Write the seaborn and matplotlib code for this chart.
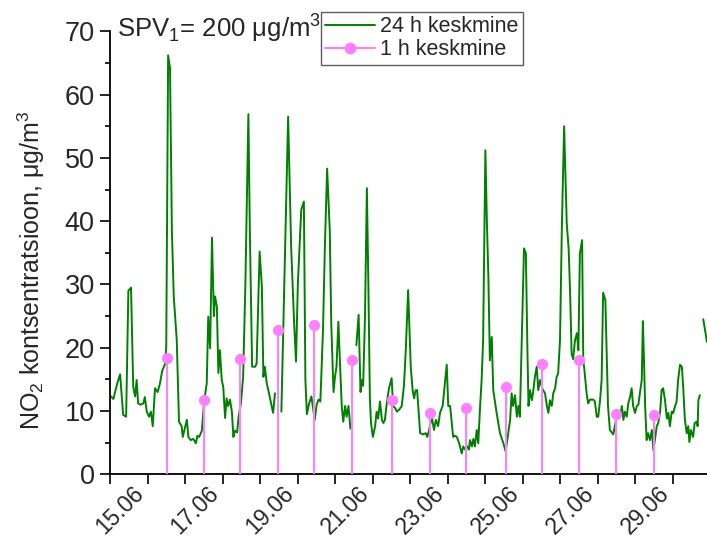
import matplotlib
matplotlib.use('Agg')
import matplotlib.pyplot as plt
import matplotlib.transforms as mtransforms
from matplotlib.lines import Line2D
from matplotlib.ticker import FuncFormatter, MultipleLocator
import numpy as np
import pandas as pd
import seaborn as sns

GREEN = '#008000'
PINK = '#FF80FF'

# 24 h keskmine: day of June (decimal) and NO2, None marks a gap in the record
DAY_24H = [14.03, 14.09, 14.19, 14.27, 14.35, 14.43, 14.49, 14.56, 14.62, 14.67,
           14.71, 14.75, 14.81, 14.89, 14.93, 14.98, 15.04, 15.09, 15.14, 15.20,
           15.27, 15.33, 15.39, 15.47, 15.50, 15.55, 15.60, 15.65, 15.70, 15.78,
           15.84, 15.91, 15.94, 16.00, 16.05, 16.09, 16.15, 16.22, 16.29, 16.33,
           16.38, 16.45, 16.51, 16.58, 16.62, 16.67, 16.72, 16.77, 16.80, 16.85,
           16.89, 16.93, 16.98, 17.02, 17.07, 17.11, 17.15, 17.20, 17.25, 17.29,
           17.33, 17.39, 17.43, 17.49, 17.55, 17.61, 17.69, 17.73, 17.79, 17.87,
           17.91, 17.99, 18.05, 18.09, 18.13, 18.18, 18.25, 18.31, 18.35, 18.40,
           None,
           18.57, 18.64, 18.75, 18.83, 18.91, 18.96, 19.01, 19.10, 19.17, 19.21,
           19.25, 19.31, 19.37, 19.46, 19.51, 19.56, 19.61, 19.68, 19.73, 19.79,
           19.86, 19.90, 19.96, 20.00, 20.04, 20.09, 20.13, 20.18, 20.22, 20.27,
           20.31, 20.36, 20.41,
           None,
           20.57, 20.63, 20.68, 20.72, 20.75, 20.80, 20.85, 20.89, 20.93, 20.96,
           21.01, 21.07, 21.11, 21.15, 21.20, 21.25, 21.29, 21.33, 21.38, 21.44,
           21.51, 21.55, 21.60, 21.65, 21.71, 21.78, 21.84, 21.89, 21.95, 22.02,
           22.07, 22.11, 22.15, 22.19, 22.24, 22.27, 22.35, 22.42, 22.46, 22.51,
           22.58, 22.64, 22.69, 22.75, 22.80, 22.87, 22.93, 22.98, 23.02, 23.07,
           23.11, 23.15, 23.20, 23.25, 23.31, 23.38, 23.42, 23.47, 23.53, 23.57,
           23.60, 23.65, 23.69, 23.73, 23.78, 23.82, 23.87, 23.91, 23.95, 24.01,
           24.05, 24.09, 24.13, 24.18, 24.22, 24.31, 24.40, 24.49, 24.55, 24.62,
           24.67, 24.71, 24.75, 24.80, 24.85, 24.89, 24.93, 24.98, 25.04, 25.09,
           25.13, 25.16, 25.20, 25.25, 25.29, 25.33, 25.38, 25.42, 25.47, 25.53,
           25.60, 25.65, 25.69, 25.73, 25.78, 25.82, 25.87, 25.91, 25.95, 26.00,
           26.05, 26.11, 26.18, 26.23, 26.27, 26.31, 26.35, 26.40, 26.45, 26.49,
           26.53, 26.59, 26.62, 26.65, 26.71, 26.75, 26.80, 26.89, 26.93, 26.98,
           27.02, 27.07, 27.11, 27.15, 27.21, 27.25, 27.28, 27.33, 27.42, 27.51,
           27.55, 27.60, 27.65, 27.69, 27.73, 27.78, 27.82, 27.87, 27.91, 27.95,
           28.00, 28.05, 28.09, 28.13, 28.18, 28.21, 28.24, 28.27, 28.31, 28.35,
           28.40, 28.45, 28.49, 28.53, 28.58, 28.62, 28.67, 28.71, 28.75, 28.80,
           28.85, 28.89, 28.93, 28.98, 29.02, 29.07, 29.11, 29.15, 29.20, 29.25,
           29.29, 29.33, 29.38, 29.42, 29.45, 29.49, 29.55, 29.59, 29.65, 29.67,
           29.69, 29.73,
           None,
           29.82, 29.92]
NO2_24H = [12.3, 11.9, 14.3, 15.8, 9.4, 9.1, 29.0, 29.5, 13.8, 12.3,
           14.9, 11.2, 11.0, 11.2, 12.2, 9.9, 9.1, 9.9, 7.6, 13.6,
           13.0, 14.3, 16.3, 17.5, 20.2, 66.2, 64.2, 38.6, 28.1, 21.2,
           8.3, 7.6, 5.9, 7.4, 8.6, 5.9, 5.4, 5.6, 4.9, 6.1,
           5.9, 6.9, 11.5, 14.4, 24.9, 19.9, 37.4, 25.0, 28.1, 26.5,
           16.0, 19.6, 14.9, 13.8, 8.9, 12.0, 10.8, 11.8, 9.9, 5.9,
           6.9, 6.6, 9.1, 11.2, 15.4, 30.0, 56.9, 38.0, 17.0, 17.0,
           17.5, 35.2, 29.6, 15.4, 17.0, 14.4, 12.5, 10.8, 9.7, 12.8,
           None,
           9.9, 28.0, 56.5, 36.0, 23.9, 17.8, 30.2, 41.8, 43.1, 15.0,
           9.5, 11.2, 12.3, 8.6, 11.0, 11.8, 11.5, 22.8, 36.0, 48.3,
           38.6, 23.9, 13.0, 15.4, 17.0, 24.1, 18.0, 10.8, 8.3, 10.8,
           9.1, 10.8, 7.2,
           None,
           20.4, 25.2, 13.0, 14.9, 14.0, 25.0, 45.2, 30.0, 12.0, 8.1,
           5.9, 7.6, 9.9, 8.8, 11.5, 8.6, 8.1, 8.6, 11.2, 13.6,
           15.2, 10.8, 10.5, 9.9, 10.2, 10.8, 14.1, 20.0, 29.1, 17.0,
           13.3, 12.0, 13.3, 13.3, 9.1, 6.5, 6.3, 6.5, 5.9, 7.0,
           9.1, 7.0, 8.6, 7.6, 9.7, 10.8, 14.4, 17.3, 10.8, 10.8,
           8.3, 5.9, 6.1, 5.9, 4.9, 3.3, 4.4, 3.9, 4.4, 3.9,
           5.4, 4.4, 5.6, 4.4, 7.0, 4.9, 10.8, 14.9, 21.2, 51.2,
           40.0, 31.2, 18.0, 21.7, 13.3, 9.7, 6.5, 4.9, 3.6, 6.5,
           8.6, 12.8, 10.8, 12.5, 9.1, 10.8, 9.1, 21.2, 35.7, 34.9,
           20.0, 10.8, 13.3, 11.7, 13.3, 15.4, 17.0, 13.3, 14.9, 13.5,
           12.8, 10.8, 9.7, 11.7, 10.8, 12.8, 13.6, 15.4, 15.9, 21.2,
           39.1, 55.0, 39.6, 35.7, 28.6, 19.0, 18.2, 21.2, 22.3, 19.6,
           34.9, 37.0, 18.0, 16.5, 12.8, 11.2, 11.8, 11.8, 11.5, 9.1,
           9.1, 11.8, 14.9, 28.7, 27.5, 18.0, 10.8, 7.0, 6.3, 9.1,
           9.9, 9.1, 10.8, 8.6, 9.9, 9.1, 11.2, 12.3, 13.6, 10.8,
           9.7, 10.8, 11.0, 12.8, 14.9, 24.2, 18.0, 10.8, 5.4, 6.5,
           5.4, 7.0, 3.8, 5.4, 7.6, 8.1, 9.9, 13.3, 13.6, 11.7,
           8.8, 9.7, 7.6, 9.9, 9.7, 10.8, 11.5, 14.9, 17.3, 17.0,
           13.3, 8.6, 6.5, 7.6, 5.1, 7.0, 5.9, 8.1, 8.3, 7.6,
           11.7, 12.5,
           None,
           24.5, 20.9]

# 1 h keskmine: one value per day around noon
DAY_1H = [15.53, 16.51, 17.46, 18.48, 19.44, 20.46, 21.51,
          22.53, 23.49, 24.56, 25.53, 26.50, 27.50, 28.51]
NO2_1H = [18.4, 11.7, 18.2, 22.8, 23.6, 18.1, 11.7,
          9.7, 10.4, 13.8, 17.4, 18.0, 9.5, 9.3]

sns.set_theme(style='ticks')
plt.rcParams['font.family'] = ['Liberation Sans', 'DejaVu Sans']
plt.rcParams['mathtext.fontset'] = 'custom'
plt.rcParams['mathtext.rm'] = 'Liberation Sans'

df_24 = pd.DataFrame({'day': DAY_24H, 'no2': NO2_24H}, dtype=float)
df_24['seg'] = df_24['day'].isna().cumsum()
df_24 = df_24.dropna()
df_1 = pd.DataFrame({'day': DAY_1H, 'no2': NO2_1H})

fig = plt.figure(figsize=(7.07, 5.37), dpi=100)
ax = fig.add_axes([110 / 707, (537 - 474.3) / 537, 597 / 707, 443 / 537])

sns.lineplot(data=df_24, x='day', y='no2', units='seg', estimator=None,
             color=GREEN, lw=1.4, ax=ax, zorder=2)
ax.vlines(df_1['day'], 0, df_1['no2'], color=PINK, lw=1.5, zorder=3)
sns.scatterplot(data=df_1, x='day', y='no2', color=PINK, s=65,
                edgecolor=PINK, linewidth=0, ax=ax, zorder=4)

ax.set_xlim(14, 29.92)
ax.set_ylim(0, 70)
ax.xaxis.set_major_locator(MultipleLocator(1))
ax.xaxis.set_major_formatter(FuncFormatter(
    lambda x, pos: '{:02d}.06'.format(int(round(x))) if int(round(x)) % 2 == 1 else ''))
ax.yaxis.set_major_locator(MultipleLocator(10))
ax.yaxis.set_minor_locator(MultipleLocator(5))
ax.tick_params(which='major', direction='out', length=7, width=1.2,
               labelsize=19.5, color='black', pad=4)
ax.tick_params(which='minor', direction='out', length=3.5, width=1.2, color='black')
ax.tick_params(axis='x', labelsize=16.5, pad=4.5)
shift = mtransforms.ScaledTranslation(-7 / 100, 0, fig.dpi_scale_trans)
for lbl in ax.get_xticklabels():
    lbl.set_rotation(45)
    lbl.set_ha('right')
    lbl.set_va('center')
    lbl.set_rotation_mode('anchor')
    lbl.set_transform(lbl.get_transform() + shift)

for side in ('top', 'right'):
    ax.spines[side].set_visible(False)
for side in ('left', 'bottom'):
    ax.spines[side].set_linewidth(1.3)
    ax.spines[side].set_color('black')

ax.set_xlabel('')
ax.set_ylabel(r'NO$_\mathregular{2}$ kontsentratsioon, μg/m$^\mathregular{3}$', fontsize=18)
ax.yaxis.set_label_coords(-0.105, 0.46)

fig.text(117 / 707, 1 - 37 / 537, r'SPV$_\mathregular{1}$= 200 μg/m$^\mathregular{3}$',
         fontsize=18.5, va='baseline', ha='left')

handles = [Line2D([], [], color=GREEN, lw=1.4),
           Line2D([], [], color=PINK, lw=1.5, marker='o', markersize=8.5,
                  markeredgewidth=0)]
leg = ax.legend(handles, ['24 h keskmine', '1 h keskmine'], loc='upper left',
                bbox_to_anchor=(321 / 707, 1 - 12 / 537), bbox_transform=fig.transFigure,
                borderaxespad=0, fontsize=15.5, handlelength=2.3, handletextpad=0.25,
                borderpad=0.2, labelspacing=0.1, fancybox=False, frameon=True)
leg.get_frame().set_edgecolor('#333333')
leg.get_frame().set_linewidth(1.0)

fig.savefig('out.png', dpi=100)
